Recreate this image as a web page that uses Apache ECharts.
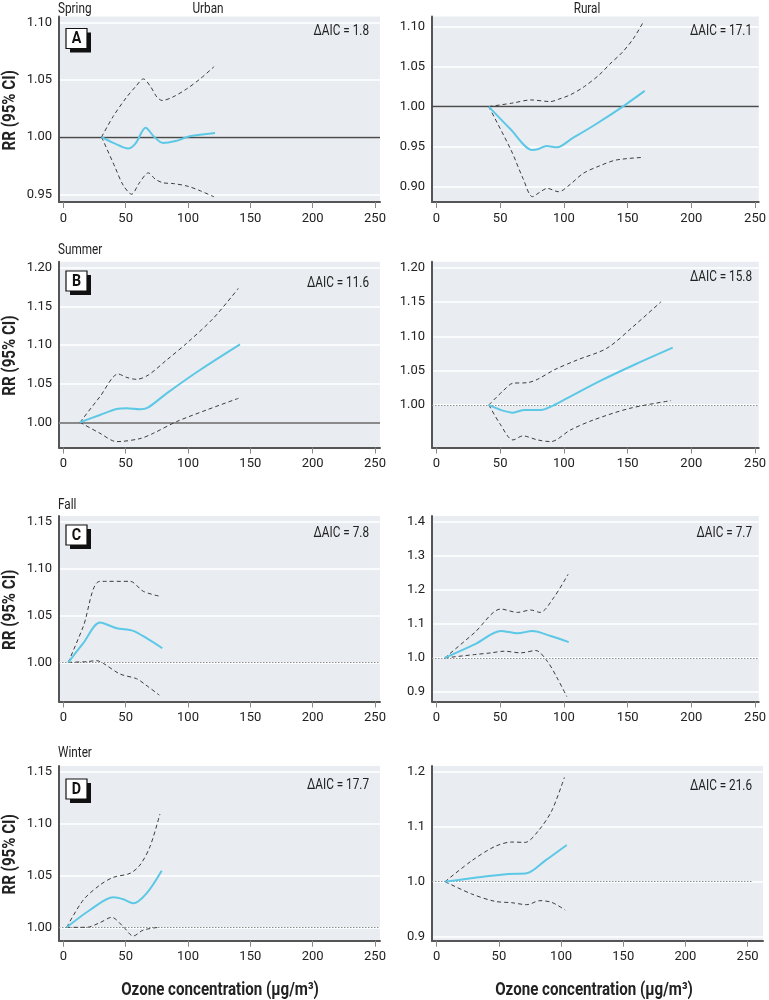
<!DOCTYPE html>
<html><head><meta charset="utf-8">
<script src="https://cdn.jsdelivr.net/npm/echarts@6/dist/echarts.min.js"></script>
<style>html,body{margin:0;padding:0;background:#fff}#c{width:769px;height:1000px}</style>
</head><body><div id="c"></div>
<script>
// ---------- data ----------
const xTickValues = [0, 50, 100, 150, 200, 250];
const seasons = ['Spring', 'Summer', 'Fall', 'Winter'];
const panelLetters = ['A', 'B', 'C', 'D'];
const settings = ['Urban', 'Rural'];

const yTicksSpringUrban = [0.95, 1.00, 1.05, 1.10];
const yTicksSpringRural = [0.90, 0.95, 1.00, 1.05, 1.10];
const yTicksSummerUrban = [1.00, 1.05, 1.10, 1.15, 1.20];
const yTicksSummerRural = [1.00, 1.05, 1.10, 1.15, 1.20];
const yTicksFallUrban = [1.00, 1.05, 1.10, 1.15];
const yTicksFallRural = [0.9, 1.0, 1.1, 1.2, 1.3, 1.4];
const yTicksWinterUrban = [1.00, 1.05, 1.10, 1.15];
const yTicksWinterRural = [0.9, 1.0, 1.1, 1.2];

const aicSpringUrban = 1.8, aicSpringRural = 17.1;
const aicSummerUrban = 11.6, aicSummerRural = 15.8;
const aicFallUrban = 7.8, aicFallRural = 7.7;
const aicWinterUrban = 17.7, aicWinterRural = 21.6;

// [ozone, RR]
const springUrbanRR = [[30.7,1.0],[41,0.9945],[52,0.9899],[58,0.9945],[66,1.0081],[73,1.0],[80,0.9948],[90,0.9965],[101.6,1.0006],[121.7,1.0035]];
const springUrbanUpper = [[30.7,1.0],[40,1.018],[50.8,1.0348],[58,1.044],[64.2,1.0507],[70,1.044],[75,1.035],[79.4,1.0319],[88,1.035],[98.9,1.042],[110,1.051],[120.9,1.0614]];
const springUrbanLower = [[30.7,1.0],[41.4,0.9739],[48,0.958],[54.8,0.9501],[61,0.960],[68.2,0.9687],[74,0.963],[80.2,0.960],[88.2,0.9594],[100,0.957],[110,0.953],[120.9,0.9478]];

const springRuralRR = [[41,1.0],[58,0.972],[75.3,0.9458],[80,0.947],[86.3,0.9508],[94.6,0.9492],[106.2,0.9600],[125,0.978],[146.2,1.0],[163.4,1.0196]];
const springRuralUpper = [[41,1.0],[60,1.0045],[74,1.0083],[89.4,1.0063],[96,1.0093],[104.9,1.0146],[116,1.025],[128,1.040],[136,1.053],[146,1.068],[155,1.086],[162.8,1.107]];
const springRuralLower = [[41,1.0],[58.5,0.9458],[68,0.910],[75.3,0.8875],[81,0.893],[86.9,0.8979],[95.9,0.8937],[105,0.903],[115.2,0.9167],[128,0.926],[141,0.9333],[162.8,0.9367]];

const summerUrbanRR = [[13.4,1.0],[29.4,1.0095],[42.8,1.0172],[50.8,1.0181],[61.5,1.0168],[68.2,1.0194],[82.9,1.0375],[109.6,1.0677],[141.7,1.1009]];
const summerUrbanUpper = [[13.4,1.0],[29.4,1.0332],[44.1,1.0625],[51,1.058],[58.8,1.0556],[68.2,1.0612],[82.9,1.0806],[98.9,1.1022],[120.3,1.1345],[140.4,1.1733]];
const summerUrbanLower = [[13.4,1.0],[29.4,0.9858],[42.8,0.975],[61.5,0.9789],[72.2,0.9858],[90.9,1.0009],[115,1.016],[140.4,1.031]];

const summerRuralRR = [[41.1,1.0],[50,0.993],[60,0.9888],[69,0.9927],[82,0.9927],[89.7,0.9976],[100,1.0073],[128.5,1.035],[157,1.060],[185.4,1.0835]];
const summerRuralUpper = [[41.1,1.0],[52,1.02],[60,1.0316],[71.6,1.0325],[79.4,1.0374],[92.3,1.051],[110.4,1.0655],[133.6,1.0825],[154.3,1.1141],[176.3,1.1505]];
const summerRuralLower = [[41.1,1.0],[50,0.972],[60,0.949],[67.8,0.9549],[79.4,0.949],[89.7,0.9466],[105.2,0.9636],[123.3,0.9782],[151.8,0.9951],[184.1,1.0063]];

const fallUrbanRR = [[4,1.0],[16,1.0204],[29.4,1.0425],[42.8,1.0364],[56.1,1.0336],[66.8,1.0257],[79.4,1.015]];
const fallUrbanUpper = [[4,1.0],[16,1.0382],[29.4,1.0864],[53.5,1.0864],[64.2,1.0757],[77.5,1.0704]];
const fallUrbanLower = [[4,1.0],[18.7,1.0007],[26.7,1.0018],[32.1,0.9989],[45.5,0.9875],[58.8,0.9825],[66,0.976],[77,0.965]];

const fallRuralRR = [[6.5,1.0],[29.9,1.0396],[50.6,1.0792],[63.6,1.0723],[75.3,1.0792],[89.6,1.0644],[103.8,1.0465]];
const fallRuralUpper = [[6.5,1.0],[29.9,1.0743],[50.6,1.1436],[63.6,1.1337],[74,1.1406],[81.3,1.1337],[92.2,1.178],[103.3,1.2455]];
const fallRuralLower = [[6.5,1.0],[29.9,1.0099],[42.8,1.0149],[53.2,1.0198],[66.2,1.0149],[77.9,1.0218],[87,0.99],[94.8,0.9406],[102.3,0.8864]];

const winterUrbanRR = [[2.7,1.0],[21.4,1.0167],[40.1,1.0289],[48.1,1.027],[56.1,1.0231],[66.8,1.0328],[78.9,1.0546]];
const winterUrbanUpper = [[2.7,1.0],[16,1.0263],[29.4,1.0408],[40.1,1.0482],[53.5,1.052],[61.5,1.06],[69.5,1.0777],[77.5,1.1092]];
const winterUrbanLower = [[2.7,1.0],[18.7,1.0],[29.4,1.0045],[38.8,1.0096],[48.1,1.0006],[56.1,0.9916],[64.2,0.9974],[77,1.0]];

const winterRuralRR = [[6.7,1.0],[33.5,1.0079],[57.7,1.0139],[72.4,1.0152],[87.2,1.0382],[104.6,1.0667]];
const winterRuralUpper = [[6.7,1.0],[28.2,1.0382],[46.9,1.0642],[60.3,1.0721],[71.1,1.0715],[81.8,1.0927],[92.5,1.129],[102.7,1.1897]];
const winterRuralLower = [[6.7,1.0],[28.2,0.9776],[46.9,0.9642],[60.3,0.9618],[72.4,0.9582],[83.1,0.9655],[92.5,0.9624],[103.3,0.9485]];

// ---------- layout / style ----------
const FONT = 'Roboto, "Liberation Sans", sans-serif';
const NARROW = 0.84; // horizontal squeeze to imitate the condensed typeface
const BLUE = '#5cc8e6';
const DASH = '#3c3c3c';
const BG = '#e9edf1';
const INK = '#222';

const cols = {
  Urban: { left: 59, width: 321 },
  Rural: { left: 432, width: 331 }
};
const rows = [
  { top: 16.5, height: 185.5, boxDy: 12 },
  { top: 261.7, height: 185.8, boxDy: 9.3 },
  { top: 516, height: 185.5, boxDy: 9 },
  { top: 766, height: 174.7, boxDy: 13 }
];

const panels = [
  { row:0, col:'Urban', xMin:-3.45, xMax:254, yMin:0.9433, yMax:1.1052, ticks:yTicksSpringUrban, dec:2, aic:aicSpringUrban, aicY:31.5, c:springUrbanRR, u:springUrbanUpper, l:springUrbanLower, ref:'solidDark' },
  { row:0, col:'Rural', xMin:-3.5, xMax:252.9, yMin:0.8809, yMax:1.1125, ticks:yTicksSpringRural, dec:2, aic:aicSpringRural, aicY:31, c:springRuralRR, u:springRuralUpper, l:springRuralLower, ref:'solidDark' },
  { row:1, col:'Urban', xMin:-3.45, xMax:254, yMin:0.9674, yMax:1.2078, ticks:yTicksSummerUrban, dec:2, aic:aicSummerUrban, aicY:283, c:summerUrbanRR, u:summerUrbanUpper, l:summerUrbanLower, ref:'solidGray' },
  { row:1, col:'Rural', xMin:-3.5, xMax:252.9, yMin:0.938, yMax:1.2087, ticks:yTicksSummerRural, dec:2, aic:aicSummerRural, aicY:277.3, c:summerRuralRR, u:summerRuralUpper, l:summerRuralLower, ref:'dotted' },
  { row:2, col:'Urban', xMin:-3.45, xMax:254, yMin:0.9582, yMax:1.1561, ticks:yTicksFallUrban, dec:2, aic:aicFallUrban, aicY:533.3, c:fallUrbanRR, u:fallUrbanUpper, l:fallUrbanLower, ref:'dotted' },
  { row:2, col:'Rural', xMin:-3.5, xMax:252.9, yMin:0.8721, yMax:1.4167, ticks:yTicksFallRural, dec:1, aic:aicFallRural, aicY:533.3, c:fallRuralRR, u:fallRuralUpper, l:fallRuralLower, ref:'dotted' },
  { row:3, col:'Urban', xMin:-3.45, xMax:254, yMin:0.9871, yMax:1.1555, ticks:yTicksWinterUrban, dec:2, aic:aicWinterUrban, aicY:785, c:winterUrbanRR, u:winterUrbanUpper, l:winterUrbanLower, ref:'dotted' },
  { row:3, col:'Rural', xMin:-3.8, xMax:262.4, yMin:0.8927, yMax:1.2104, ticks:yTicksWinterRural, dec:1, aic:aicWinterRural, aicY:786, c:winterRuralRR, u:winterRuralUpper, l:winterRuralLower, ref:'dotted', refEnd:253.5 }
];
const aicRight = { Urban: 369, Rural: 752 };

const refStyles = {
  solidDark: { color: '#4a4a4a', width: 1.3, type: 'solid' },
  solidGray: { color: '#8a8a8a', width: 2, type: 'solid' },
  dotted: { color: '#8e8e8e', width: 1, type: [1.5, 1.5] }
};

function label(text, x, y, size, opts = {}) {
  return Object.assign({ type: 'text', x, y, scaleX: NARROW, z: 12,
    style: { text, font: (opts.bold ? 'bold ' : '') + size + 'px ' + FONT, fill: opts.fill || INK,
      textAlign: opts.align || 'left', textVerticalAlign: 'middle' } }, opts.extra || {});
}

const grid = [], xAxis = [], yAxis = [], series = [], graphic = [];

panels.forEach((p, i) => {
  const col = cols[p.col], row = rows[p.row];
  grid.push({ left: col.left, top: row.top, width: col.width, height: row.height,
    show: true, backgroundColor: BG, borderWidth: 0, containLabel: false });
  xAxis.push({ type: 'value', gridIndex: i, min: p.xMin, max: p.xMax,
    axisLine: { show: true, onZero: false, lineStyle: { color: '#555', width: 2 } },
    axisTick: { show: true, length: 6, customValues: xTickValues, lineStyle: { color: '#888', width: 1 } },
    axisLabel: { customValues: xTickValues, margin: 10, fontSize: 13, color: INK, fontFamily: FONT },
    splitLine: { show: false } });
  yAxis.push({ type: 'value', gridIndex: i, min: p.yMin, max: p.yMax,
    axisLine: { show: true, onZero: false, lineStyle: { color: '#555', width: 2 } },
    axisTick: { show: true, length: 0, customValues: p.ticks },
    axisLabel: { customValues: p.ticks, margin: 7, fontSize: 13, color: INK, fontFamily: FONT,
      formatter: v => v.toFixed(p.dec) },
    splitLine: { show: true, lineStyle: { color: '#ffffff', width: 1.5 } } });
  const rs = refStyles[p.ref];
  const refData = p.refEnd
    ? [[{ coord: [p.xMin, 1] }, { coord: [p.refEnd, 1] }]]
    : [{ yAxis: 1 }];
  series.push({ type: 'line', xAxisIndex: i, yAxisIndex: i, data: p.l, showSymbol: false, smooth: 0.3,
    lineStyle: { color: DASH, width: 1, type: [4, 3] }, z: 3, silent: true,
    markLine: { silent: true, symbol: 'none', label: { show: false }, lineStyle: rs, data: refData, z: 2 } });
  series.push({ type: 'line', xAxisIndex: i, yAxisIndex: i, data: p.u, showSymbol: false, smooth: 0.3,
    lineStyle: { color: DASH, width: 1, type: [4, 3] }, z: 3, silent: true });
  series.push({ type: 'line', xAxisIndex: i, yAxisIndex: i, data: p.c, showSymbol: false, smooth: 0.3,
    lineStyle: { color: BLUE, width: 2 }, z: 4, silent: true });

  graphic.push(label('\u0394AIC = ' + p.aic.toFixed(1), aicRight[p.col], p.aicY, 14, { align: 'right' }));
});

const rowLabelY = [9, 250.7, 505, 753];
seasons.forEach((s, r) => {
  graphic.push(label(s, 58, rowLabelY[r], 14));
  const bx = 66, by = rows[r].top + rows[r].boxDy;
  graphic.push({ type: 'rect', x: bx + 4, y: by + 4, shape: { width: 21, height: 20 }, style: { fill: '#111' }, z: 10 });
  graphic.push({ type: 'rect', x: bx, y: by, shape: { width: 21, height: 20 }, style: { fill: '#fff', stroke: '#111', lineWidth: 1.2 }, z: 11 });
  graphic.push(label(panelLetters[r], bx + 10.5, by + 10.5, 17, { bold: true, align: 'center', fill: '#111' }));
  graphic.push(label('RR (95% CI)', 10, rows[r].top + rows[r].height / 2 + 1, 18,
    { bold: true, align: 'center', extra: { rotation: Math.PI / 2 } }));
});
graphic.push(label(settings[0], 208, 9, 14, { align: 'center' }));
graphic.push(label(settings[1], 587, 9, 14, { align: 'center' }));
graphic.push(label('Ozone concentration (\u00b5g/m\u00b3)', 220, 990, 18, { bold: true, align: 'center' }));
graphic.push(label('Ozone concentration (\u00b5g/m\u00b3)', 594, 990, 18, { bold: true, align: 'center' }));

const chart = echarts.init(document.getElementById('c'), null, { renderer: 'canvas' });
chart.setOption({ animation: false, backgroundColor: '#fff', grid, xAxis, yAxis, series, graphic });
</script></body></html>
